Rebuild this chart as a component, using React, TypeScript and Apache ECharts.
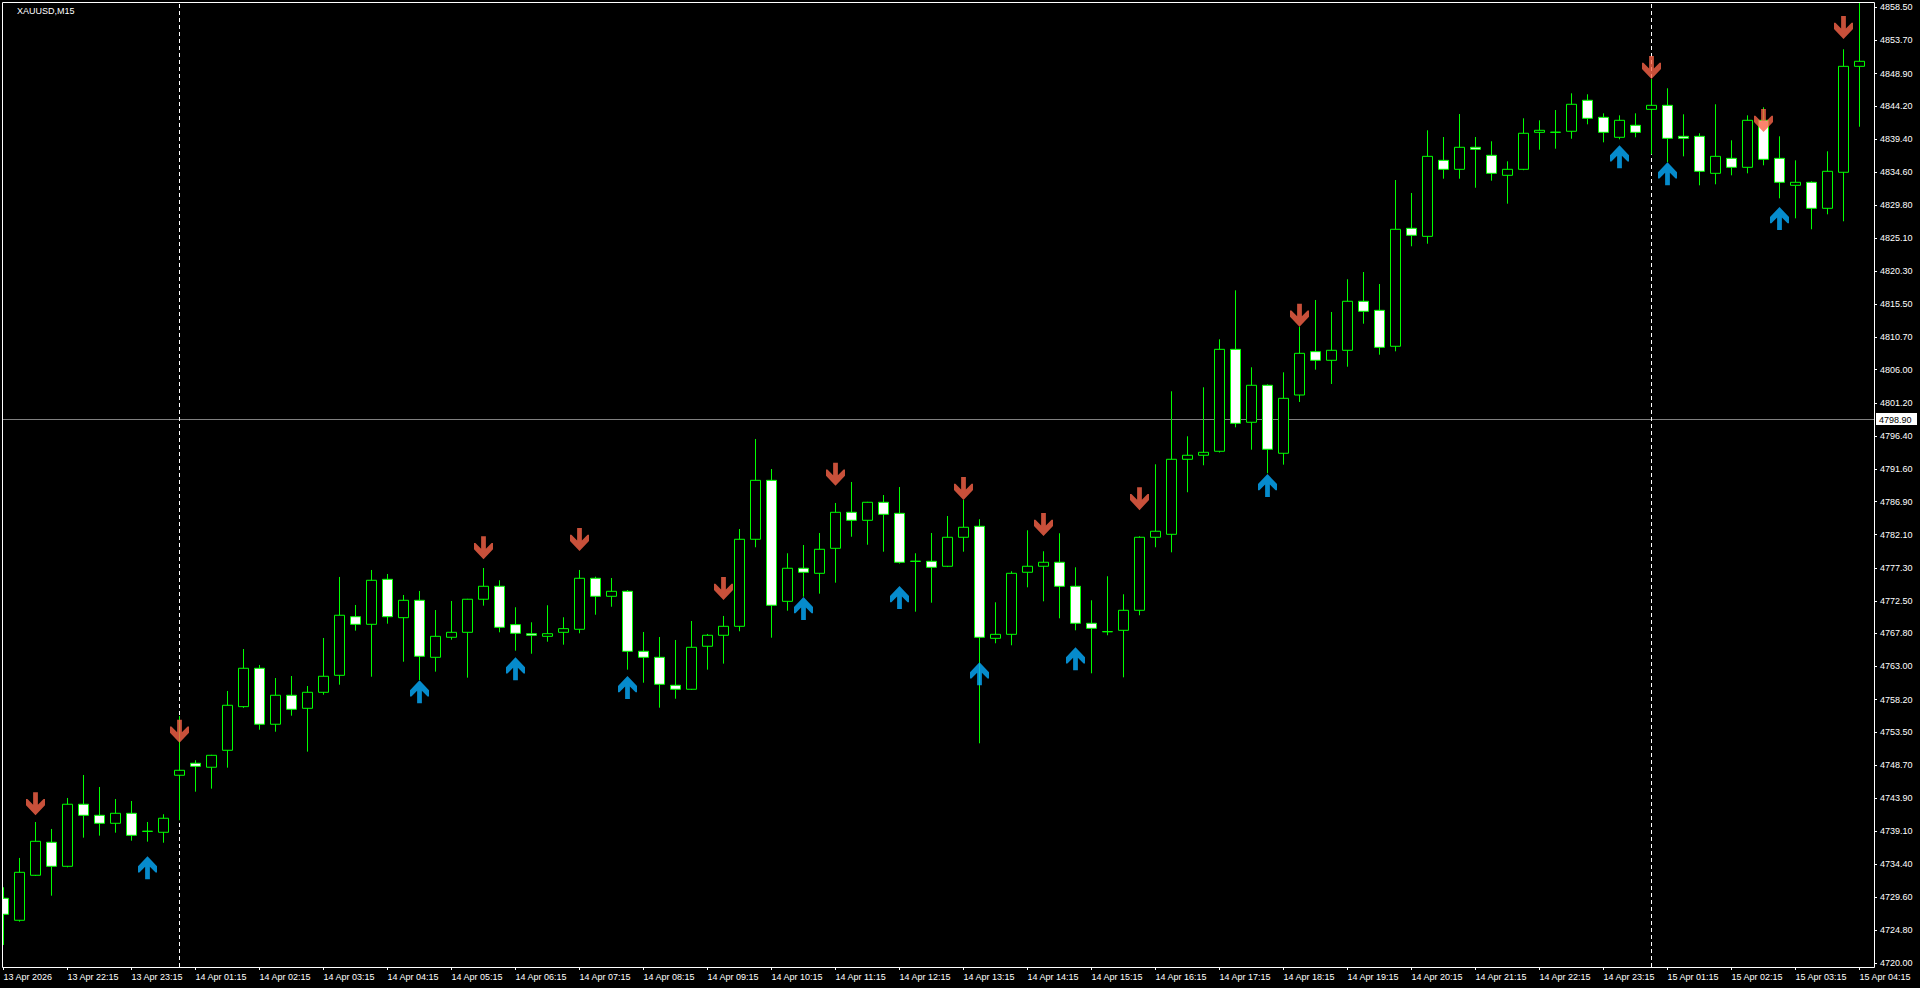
import React, { useEffect, useRef } from "react";
import * as echarts from "echarts";

const symbolName = "XAUUSD,M15";

// OHLC of the 117 M15 bars (13 Apr 21:15 -> 15 Apr 04:15)
const opens = [
  4729.42, 4726.23, 4732.75, 4737.53, 4734.05, 4743.04, 4741.44, 4740.28, 4741.73, 4739.10,
  4738.98, 4747.24, 4748.98, 4748.40, 4750.86, 4757.18, 4762.74, 4754.63, 4758.83, 4756.94,
  4759.26, 4761.72, 4770.21, 4769.11, 4775.63, 4770.07, 4772.59, 4764.33, 4767.23, 4767.95,
  4772.74, 4774.62, 4769.06, 4767.75, 4767.37, 4767.95, 4768.39, 4775.78, 4773.17, 4773.89,
  4765.20, 4764.33, 4760.28, 4759.70, 4765.93, 4767.52, 4768.82, 4781.43, 4789.97, 4772.44,
  4777.23, 4776.50, 4780.12, 4785.34, 4784.18, 4786.79, 4785.19, 4778.22, 4778.24, 4777.52,
  4781.72, 4783.31, 4767.08, 4767.66, 4776.65, 4777.52, 4778.10, 4774.62, 4769.26, 4768.02,
  4768.24, 4771.14, 4781.72, 4782.15, 4793.02, 4793.60, 4794.18, 4808.95, 4798.38, 4803.74,
  4793.89, 4802.33, 4808.61, 4807.36, 4808.81, 4815.91, 4814.60, 4809.39, 4826.48, 4825.32,
  4836.33, 4835.03, 4838.22, 4837.06, 4834.16, 4835.03, 4840.39, 4840.38, 4840.54, 4845.03,
  4842.56, 4839.67, 4841.41, 4843.72, 4844.30, 4839.81, 4839.81, 4834.45, 4836.62, 4835.32,
  4842.13, 4836.62, 4832.71, 4833.15, 4829.38, 4834.60, 4849.95,
];
const closes = [
  4727.10, 4733.18, 4737.67, 4734.05, 4743.04, 4741.44, 4740.28, 4741.73, 4738.54, 4739.14,
  4741.01, 4747.96, 4748.54, 4750.13, 4757.38, 4762.74, 4754.63, 4758.83, 4756.80, 4759.26,
  4761.58, 4770.42, 4769.11, 4775.49, 4770.21, 4772.59, 4764.48, 4767.37, 4767.95, 4772.74,
  4774.62, 4768.68, 4767.81, 4767.52, 4767.75, 4768.48, 4775.78, 4773.17, 4773.89, 4765.20,
  4764.33, 4760.42, 4759.70, 4765.78, 4767.52, 4768.82, 4781.43, 4789.97, 4771.87, 4777.23,
  4776.65, 4779.98, 4785.34, 4784.18, 4786.79, 4785.05, 4778.10, 4778.26, 4777.37, 4781.72,
  4783.17, 4767.23, 4767.66, 4776.50, 4777.52, 4778.10, 4774.62, 4769.26, 4768.53, 4768.06,
  4771.14, 4781.72, 4782.59, 4793.02, 4793.60, 4794.03, 4808.95, 4798.23, 4803.74, 4794.47,
  4801.85, 4808.37, 4807.36, 4808.81, 4815.91, 4814.46, 4809.24, 4826.34, 4825.47, 4836.91,
  4835.03, 4838.22, 4837.93, 4834.45, 4835.03, 4840.25, 4840.68, 4840.42, 4844.45, 4842.42,
  4840.39, 4842.13, 4840.39, 4844.30, 4839.52, 4839.52, 4834.74, 4836.91, 4835.32, 4842.13,
  4836.48, 4833.15, 4833.15, 4829.38, 4834.74, 4849.95, 4850.68,
];
const lows = [
  4722.65, 4726.03, 4732.65, 4729.79, 4733.90, 4738.20, 4738.49, 4738.92, 4737.76, 4737.62,
  4737.47, 4740.72, 4744.86, 4745.30, 4748.34, 4757.00, 4753.84, 4753.55, 4755.87, 4750.66,
  4758.91, 4760.36, 4768.19, 4761.52, 4769.20, 4763.69, 4761.04, 4762.25, 4766.88, 4761.38,
  4771.81, 4767.95, 4765.29, 4764.85, 4766.59, 4766.16, 4767.81, 4770.50, 4771.66, 4762.54,
  4760.65, 4757.03, 4758.33, 4759.60, 4762.54, 4763.41, 4768.10, 4780.27, 4767.17, 4771.08,
  4773.11, 4773.55, 4775.14, 4781.80, 4780.64, 4779.63, 4777.90, 4770.94, 4772.24, 4777.40,
  4779.63, 4751.87, 4766.36, 4766.07, 4774.47, 4772.44, 4769.98, 4768.24, 4762.01, 4767.52,
  4761.43, 4770.42, 4780.27, 4779.54, 4788.24, 4792.15, 4794.00, 4797.65, 4794.41, 4790.99,
  4792.24, 4801.32, 4806.00, 4803.93, 4806.43, 4812.66, 4808.17, 4808.66, 4823.88, 4824.25,
  4833.67, 4833.67, 4832.36, 4833.38, 4830.05, 4834.90, 4837.87, 4838.02, 4839.46, 4841.55,
  4838.94, 4839.38, 4839.67, 4837.20, 4836.05, 4836.91, 4832.71, 4832.86, 4834.16, 4834.45,
  4835.61, 4830.83, 4827.93, 4826.34, 4828.51, 4827.50, 4841.20,
];
const highs = [
  4731.01, 4735.26, 4740.47, 4739.46, 4743.95, 4747.28, 4745.54, 4743.80, 4743.51, 4740.47,
  4741.59, 4755.83, 4749.41, 4750.20, 4759.45, 4765.53, 4763.22, 4761.33, 4761.62, 4760.17,
  4767.13, 4775.97, 4771.91, 4776.98, 4776.40, 4773.36, 4773.94, 4771.18, 4772.49, 4772.80,
  4777.27, 4775.49, 4771.58, 4769.40, 4771.87, 4770.13, 4776.98, 4776.01, 4775.82, 4774.08,
  4768.00, 4767.27, 4766.84, 4769.59, 4767.71, 4770.32, 4782.92, 4795.96, 4791.61, 4779.40,
  4780.60, 4782.34, 4786.69, 4789.73, 4786.85, 4787.84, 4789.00, 4779.40, 4782.34, 4784.80,
  4787.12, 4784.33, 4772.30, 4776.79, 4782.73, 4779.69, 4782.30, 4777.37, 4772.59, 4776.07,
  4773.46, 4781.86, 4792.29, 4802.87, 4796.35, 4803.45, 4810.40, 4817.50, 4806.35, 4803.88,
  4805.62, 4812.23, 4816.10, 4814.36, 4819.10, 4820.15, 4818.41, 4833.48, 4831.60, 4840.68,
  4839.71, 4843.04, 4839.71, 4839.09, 4836.19, 4842.42, 4842.13, 4843.62, 4846.04, 4845.90,
  4843.14, 4842.85, 4843.14, 4848.11, 4846.77, 4843.00, 4840.25, 4844.45, 4839.23, 4842.85,
  4844.01, 4839.81, 4836.33, 4833.30, 4837.64, 4852.42, 4859.12,
];

// Trading sessions: day label, first bar time (minutes), bar count
const sessions = [
  { day: "13 Apr", startMin: 21 * 60 + 15, count: 11 },
  { day: "14 Apr", startMin: 60, count: 92 },
  { day: "15 Apr", startMin: 60, count: 14 },
];

const xTickLabels = [
  "13 Apr 2026", "13 Apr 22:15", "13 Apr 23:15", "14 Apr 01:15", "14 Apr 02:15",
  "14 Apr 03:15", "14 Apr 04:15", "14 Apr 05:15", "14 Apr 06:15", "14 Apr 07:15",
  "14 Apr 08:15", "14 Apr 09:15", "14 Apr 10:15", "14 Apr 11:15", "14 Apr 12:15",
  "14 Apr 13:15", "14 Apr 14:15", "14 Apr 15:15", "14 Apr 16:15", "14 Apr 17:15",
  "14 Apr 18:15", "14 Apr 19:15", "14 Apr 20:15", "14 Apr 21:15", "14 Apr 22:15",
  "14 Apr 23:15", "15 Apr 01:15", "15 Apr 02:15", "15 Apr 03:15", "15 Apr 04:15",
];
const xTickEvery = 4;

const yTickValues = [
  4720.0, 4724.8, 4729.6, 4734.4, 4739.1, 4743.9, 4748.7, 4753.5, 4758.2, 4763.0,
  4767.8, 4772.5, 4777.3, 4782.1, 4786.9, 4791.6, 4796.4, 4801.2, 4806.0, 4810.7,
  4815.5, 4820.3, 4825.1, 4829.8, 4834.6, 4839.4, 4844.2, 4848.9, 4853.7, 4858.5,
];
const yMin = 4719.46;
const yMax = 4859.27;

const downArrowBars = [2, 11, 30, 36, 45, 52, 60, 65, 71, 81, 103, 110, 115];
const downArrowPrices = [
  4743.12, 4753.61, 4780.21, 4781.4, 4774.3, 4790.84, 4788.79, 4783.57, 4787.31, 4813.88,
  4849.78, 4842.1, 4855.57,
];
const upArrowBars = [9, 26, 32, 39, 50, 56, 61, 67, 79, 101, 104, 111];
const upArrowPrices = [
  4733.84, 4759.33, 4762.68, 4759.96, 4771.4, 4772.99, 4761.96, 4764.13, 4789.22, 4836.86,
  4834.38, 4827.9,
];

const daySeparatorBars = [11, 103];
const bidPrice = 4798.9;

const FONT = "'Liberation Sans', Arial, sans-serif";
const DOWN_PATH =
  "path://M7.5,0 L12.5,0 L12.5,13 L18.5,7 L20,7 L20,13.5 L10,24 L0,13.5 L0,7 L1.5,7 L7.5,13 Z";
const UP_PATH =
  "path://M7.5,24 L12.5,24 L12.5,11 L18.5,17 L20,17 L20,10.5 L10,0 L0,10.5 L0,17 L1.5,17 L7.5,11 Z";

function buildBarTimes(): string[] {
  const out: string[] = [];
  sessions.forEach((s) => {
    for (let i = 0; i < s.count; i++) {
      const m = s.startMin + i * 15;
      const hh = String(Math.floor(m / 60)).padStart(2, "0");
      const mm = String(m % 60).padStart(2, "0");
      out.push(`${s.day} ${hh}:${mm}`);
    }
  });
  return out;
}

export default function App() {
  const ref = useRef<HTMLDivElement>(null);

  useEffect(() => {
    if (!ref.current) return;
    const chart = echarts.init(ref.current, undefined, { renderer: "svg" });
    const barTimes = buildBarTimes();
    const ohlc = opens.map((o, i) => [o, closes[i], lows[i], highs[i]]);
    const isTick = (i: number) => i % xTickEvery === 0;

    chart.setOption({
      animation: false,
      backgroundColor: "#000000",
      title: {
        text: symbolName,
        left: 17,
        top: 6,
        padding: 0,
        textStyle: { color: "#ffffff", fontSize: 9, fontWeight: "normal", fontFamily: FONT },
      },
      grid: { left: 3.5, top: 2, width: 1856, height: 965 },
      xAxis: {
        type: "category",
        data: barTimes,
        boundaryGap: false,
        axisLine: { show: false },
        axisTick: {
          show: true,
          interval: (i: number) => isTick(i),
          length: 3,
          lineStyle: { color: "#ffffff" },
        },
        axisLabel: {
          interval: (i: number) => isTick(i),
          formatter: (_v: string, i: number) => xTickLabels[i / xTickEvery] ?? "",
          color: "#ffffff",
          fontSize: 9,
          fontFamily: FONT,
          align: "left",
          margin: 5,
        },
        splitLine: { show: false },
      },
      yAxis: {
        type: "value",
        position: "right",
        offset: 14.5,
        min: yMin,
        max: yMax,
        axisLine: { show: false },
        axisTick: {
          show: true,
          customValues: yTickValues,
          length: 3,
          lineStyle: { color: "#ffffff" },
        },
        axisLabel: {
          customValues: yTickValues,
          formatter: (v: number) => v.toFixed(2),
          color: "#ffffff",
          fontSize: 9,
          fontFamily: FONT,
          margin: 6,
        },
        splitLine: { show: false },
      },
      series: [
        {
          type: "candlestick",
          data: ohlc,
          barWidth: 10,
          clip: false,
          z: 2,
          itemStyle: {
            color: "#000000",
            color0: "#ffffff",
            borderColor: "#00ff00",
            borderColor0: "#00ff00",
            borderWidth: 1,
          },
          markLine: {
            silent: true,
            z: 1,
            symbol: "none",
            label: { show: false },
            lineStyle: { color: "#ffffff", type: [4, 3], width: 1 },
            data: daySeparatorBars.map((b) => ({ xAxis: b })),
          },
        },
        {
          type: "scatter",
          silent: true,
          z: 4,
          symbol: DOWN_PATH,
          symbolSize: [19, 23],
          itemStyle: { color: "#FA6449" },
          data: downArrowBars.map((b, i) => [b, downArrowPrices[i]]),
        },
        {
          type: "scatter",
          silent: true,
          z: 4,
          symbol: UP_PATH,
          symbolSize: [19, 23],
          itemStyle: { color: "#08AEFF" },
          data: upArrowBars.map((b, i) => [b, upArrowPrices[i]]),
        },
      ],
    });

    const yBid = Math.round(chart.convertToPixel({ yAxisIndex: 0 }, bidPrice) as number) + 0.5;
    chart.setOption({
      graphic: [
        {
          type: "line",
          z: 0,
          silent: true,
          shape: { x1: 2, y1: yBid, x2: 1874, y2: yBid },
          style: { stroke: "#808080", lineWidth: 1 },
        },
        {
          type: "rect",
          z: 10,
          silent: true,
          shape: { x: 1876, y: yBid - 6.5, width: 41, height: 12 },
          style: { fill: "#ffffff" },
        },
        {
          type: "text",
          z: 11,
          silent: true,
          x: 1879,
          y: yBid,
          style: {
            text: bidPrice.toFixed(2),
            fill: "#000000",
            font: `9px ${FONT}`,
            verticalAlign: "middle",
          },
        },
        {
          type: "rect",
          z: 20,
          silent: true,
          shape: { x: 0, y: 0, width: 2, height: 968 },
          style: { fill: "#000000" },
        },
        {
          type: "rect",
          z: 21,
          silent: true,
          shape: { x: 2.5, y: 2.5, width: 1872, height: 965 },
          style: { fill: "none", stroke: "#ffffff", lineWidth: 1 },
        },
      ],
    });

    return () => chart.dispose();
  }, []);

  return (
    <div
      ref={ref}
      style={{
        position: "absolute",
        left: 0,
        top: 0,
        width: 1920,
        height: 988,
        background: "#000000",
      }}
    />
  );
}
